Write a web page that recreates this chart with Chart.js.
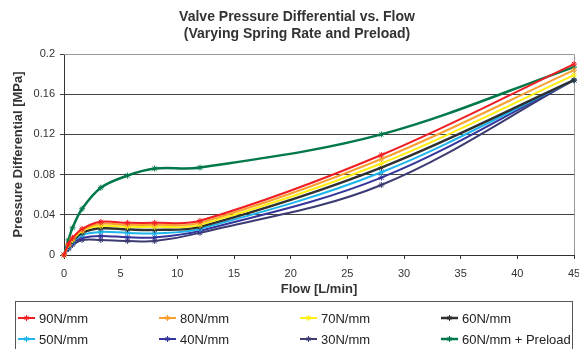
<!DOCTYPE html>
<html>
<head>
<meta charset="utf-8">
<script src="https://cdn.jsdelivr.net/npm/chart.js@4.4.1/dist/chart.umd.min.js"></script>
<style>
    html, body { margin: 0; padding: 0; background: #fff; }
    #wrap { position: relative; width: 579px; height: 349px; overflow: hidden; }
</style>
</head>
<body>
<div id="wrap"><canvas id="valveChart" width="579" height="349"></canvas></div>
<script>
// Débit [L/min] commun à toutes les séries
const flow = [0, 0.4, 0.75, 1.6, 3.25, 5.6, 8, 12, 28, 45];

// Différentiel de pression [MPa]
const k90 = [0, 0.011, 0.017, 0.026, 0.033, 0.032, 0.032, 0.034, 0.0995, 0.190];
const k80 = [0, 0.010, 0.016, 0.025, 0.031, 0.030, 0.030, 0.032, 0.0955, 0.184];
const k70 = [0, 0.010, 0.015, 0.024, 0.029, 0.028, 0.028, 0.030, 0.091, 0.179];
const k60 = [0, 0.009, 0.014, 0.022, 0.0265, 0.0255, 0.025, 0.028, 0.087, 0.174];
const k50 = [0, 0.008, 0.013, 0.020, 0.023, 0.022, 0.0215, 0.026, 0.0823, 0.174];
const k40 = [0, 0.007, 0.012, 0.017, 0.019, 0.0176, 0.0174, 0.024, 0.077, 0.174];
const k30 = [0, 0.006, 0.010, 0.015, 0.015, 0.014, 0.0139, 0.022, 0.0697, 0.174];
const k60pre = [0, 0.015, 0.027, 0.046, 0.067, 0.079, 0.086, 0.087, 0.120, 0.187];

const seriesNames = ['90N/mm', '80N/mm', '70N/mm', '60N/mm', '50N/mm', '40N/mm', '30N/mm', '60N/mm + Preload'];
const seriesValues = [k90, k80, k70, k60, k50, k40, k30, k60pre];
const seriesColors = ['#F01E23', '#F9A030', '#FFEE10', '#303030', '#1EB4EC', '#34349A', '#3C3C72', '#00784A'];
const seriesWidths = [2, 2, 2, 2.5, 2, 2, 2, 2.5];

const xTickLabels = ['0', '5', '10', '15', '20', '25', '30', '35', '40', '45'];
const yTickLabels = ['0', '0.04', '0.08', '0.12', '0.16', '0.2'];
const titleLines = ['Valve Pressure Differential vs. Flow', '(Varying Spring Rate and Preload)'];

const FONT = '"Liberation Sans", Arial, sans-serif';

const datasets = seriesNames.map((name, i) => ({
    label: name,
    data: flow.map((x, j) => ({ x: x, y: seriesValues[i][j] })),
    borderColor: seriesColors[i],
    backgroundColor: seriesColors[i],
    borderWidth: seriesWidths[i],
    pointStyle: 'star',
    pointRadius: 3,
    pointBorderWidth: 1,
    pointBorderColor: seriesColors[i],
    tension: 0.35,
    fill: false,
    clip: false
}));

// Titre centré sur deux lignes
const titlePlugin = {
    id: 'titleLines',
    afterDraw(chart) {
        const ctx = chart.ctx;
        ctx.save();
        ctx.font = 'bold 14px ' + FONT;
        ctx.fillStyle = '#333';
        ctx.textAlign = 'center';
        ctx.textBaseline = 'alphabetic';
        ctx.fillText(titleLines[0], 297, 21);
        ctx.fillText(titleLines[1], 297, 38);
        ctx.restore();
    }
};

// Bordure grise haut/droite du graphique
const framePlugin = {
    id: 'frame',
    beforeDatasetsDraw(chart) {
        const a = chart.chartArea;
        const ctx = chart.ctx;
        ctx.save();
        ctx.strokeStyle = '#999';
        ctx.lineWidth = 1;
        ctx.beginPath();
        ctx.moveTo(a.left, a.top + 0.5);
        ctx.lineTo(a.right + 0.5, a.top + 0.5);
        ctx.lineTo(a.right + 0.5, a.bottom);
        ctx.stroke();
        ctx.restore();
    }
};

// Légende en grille 4 colonnes x 2 lignes
const legendPlugin = {
    id: 'gridLegend',
    afterDraw(chart) {
        const ctx = chart.ctx;
        const cols = [18, 159, 300, 441];
        const rows = [318, 339];
        ctx.save();
        ctx.strokeStyle = '#555';
        ctx.lineWidth = 1;
        ctx.strokeRect(15.5, 301.5, 557, 60);
        ctx.font = '13px ' + FONT;
        ctx.textBaseline = 'middle';
        ctx.textAlign = 'left';
        chart.data.datasets.forEach((ds, i) => {
            const x = cols[i % 4];
            const y = rows[Math.floor(i / 4)];
            ctx.strokeStyle = ds.borderColor;
            ctx.lineWidth = ds.borderWidth;
            ctx.beginPath();
            ctx.moveTo(x, y);
            ctx.lineTo(x + 17, y);
            ctx.stroke();
            ctx.lineWidth = 1;
            ctx.fillStyle = ds.borderColor;
            Chart.helpers.drawPoint(ctx, { pointStyle: 'star', radius: 3, borderWidth: 1 }, x + 8.5, y);
            ctx.fillStyle = '#222';
            ctx.fillText(ds.label, x + 21, y + 1);
        });
        ctx.restore();
    }
};

const ctx = document.getElementById('valveChart').getContext('2d');
new Chart(ctx, {
    type: 'line',
    data: { datasets: datasets },
    options: {
        responsive: false,
        animation: false,
        layout: { padding: { top: 54, right: 5, bottom: 49, left: 0 } },
        plugins: {
            legend: { display: false },
            title: { display: false },
            tooltip: { enabled: false }
        },
        scales: {
            x: {
                type: 'linear',
                min: 0,
                max: 45,
                afterFit(s) { s.height = 45; s.paddingLeft = 0; s.paddingRight = 0; },
                ticks: {
                    stepSize: 5,
                    padding: 8,
                    color: '#333',
                    font: { family: FONT, size: 11 },
                    maxRotation: 0,
                    callback: (v, i) => xTickLabels[i]
                },
                grid: { drawOnChartArea: false, drawTicks: true, tickLength: 4, color: '#333' },
                border: { color: '#333', width: 1 },
                title: {
                    display: true,
                    text: 'Flow [L/min]',
                    color: '#333',
                    font: { family: FONT, size: 13, weight: 'bold' },
                    padding: { top: 0, bottom: 3 }
                }
            },
            y: {
                type: 'linear',
                min: 0,
                max: 0.2,
                afterFit(s) { s.width = 64; },
                ticks: {
                    stepSize: 0.04,
                    padding: 5,
                    color: '#333',
                    font: { family: FONT, size: 11 },
                    callback: (v, i) => yTickLabels[i]
                },
                grid: {
                    color: c => (c.tick && c.tick.value > 0.19) ? '#999' : '#444',
                    tickColor: '#444',
                    drawTicks: true,
                    tickLength: 4
                },
                border: { color: '#333', width: 1 },
                title: {
                    display: true,
                    text: 'Pressure Differential [MPa]',
                    color: '#333',
                    font: { family: FONT, size: 13, weight: 'bold' },
                    padding: { top: 11, bottom: 0 }
                }
            }
        }
    },
    plugins: [titlePlugin, framePlugin, legendPlugin]
});
</script>
</body>
</html>
